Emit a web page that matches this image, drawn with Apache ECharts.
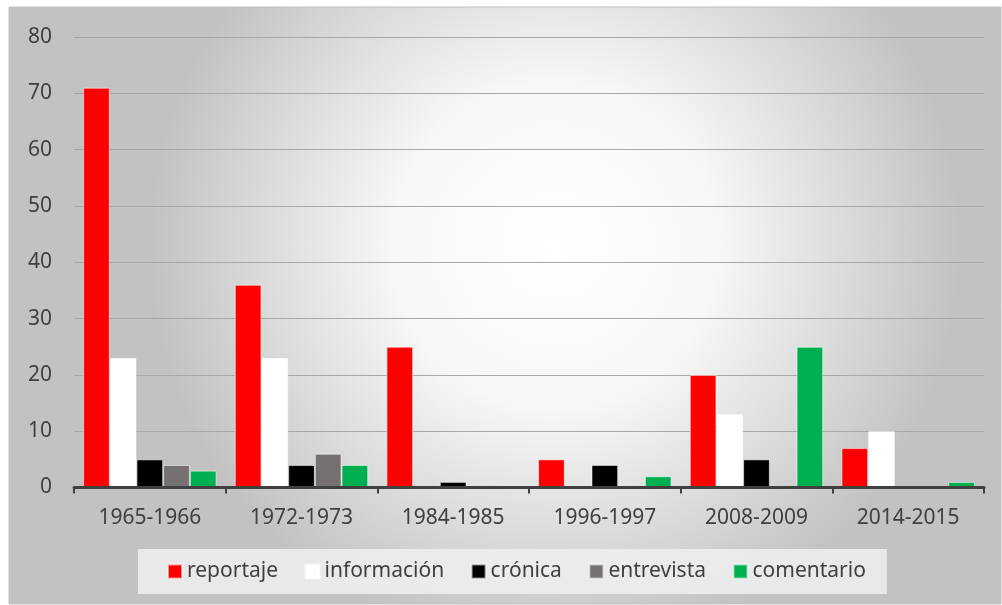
<!DOCTYPE html>
<html>
<head>
<meta charset="utf-8">
<script src="https://cdn.jsdelivr.net/npm/echarts@6/dist/echarts.min.js"></script>
<style>
  html, body { margin: 0; padding: 0; background: #fff; }
  #chart { width: 1002px; height: 605px; }
</style>
</head>
<body>
<div id="chart"></div>
<script>
var periods = ['1965-1966', '1972-1973', '1984-1985', '1996-1997', '2008-2009', '2014-2015'];
var reportaje = [71, 36, 25, 5, 20, 7];
var informacion = [23, 23, 0, 0, 13, 10];
var cronica = [5, 4, 1, 4, 5, 0];
var entrevista = [4, 6, 0, 0, 0, 0];
var comentario = [3, 4, 0, 2, 25, 1];
var yTicks = { min: 0, max: 80, step: 10 };

var chart = echarts.init(document.getElementById('chart'));
var font = 'Noto Sans';
var textColor = '#404040';

function bar(name, data, color) {
  return {
    name: name,
    type: 'bar',
    data: data,
    barGap: '0%',
    barCategoryGap: '12%',
    itemStyle: {
      color: color,
      borderColor: 'rgba(255,255,255,0.55)',
      borderWidth: 1
    }
  };
}

var option = {
  animation: false,
  graphic: [{
    type: 'rect',
    z: -10,
    shape: { x: 9, y: 7, width: 992, height: 597 },
    style: {
      fill: {
        type: 'radial', x: 0.55, y: 0.4, r: 0.68,
        colorStops: [
          { offset: 0, color: '#ffffff' },
          { offset: 0.4, color: '#f7f7f7' },
          { offset: 1, color: '#c2c2c2' }
        ]
      },
      stroke: '#c0c0c0',
      lineWidth: 1
    }
  }],
  grid: { left: 74, right: 18, top: 37, bottom: 117.5 },
  legend: {
    left: 138,
    top: 549,
    width: 760,
    padding: [12, 21, 12, 29],
    backgroundColor: 'rgba(240,240,240,0.85)',
    icon: 'rect',
    itemWidth: 14,
    itemHeight: 14,
    itemGap: 26.5,
    textStyle: { fontFamily: font, fontSize: 21, color: textColor },
    data: ['reportaje', 'información', 'crónica', 'entrevista', 'comentario']
  },
  xAxis: {
    type: 'category',
    data: periods,
    z: 5,
    axisLine: { lineStyle: { color: '#404040', width: 3 } },
    axisTick: { show: true, length: 6, lineStyle: { color: '#404040', width: 2 } },
    axisLabel: { fontFamily: font, fontSize: 21, color: textColor, margin: 20 }
  },
  yAxis: {
    type: 'value',
    min: yTicks.min,
    max: yTicks.max,
    interval: yTicks.step,
    axisLine: { show: false },
    axisTick: { show: false },
    axisLabel: { fontFamily: font, fontSize: 21, color: textColor, margin: 22 },
    splitLine: { lineStyle: { color: '#a8a8a8', width: 1 } }
  },
  series: [
    bar('reportaje', reportaje, '#ff0000'),
    bar('información', informacion, '#ffffff'),
    bar('crónica', cronica, '#000000'),
    bar('entrevista', entrevista, '#767171'),
    bar('comentario', comentario, '#00b050')
  ]
};

chart.setOption(option);
</script>
</body>
</html>
